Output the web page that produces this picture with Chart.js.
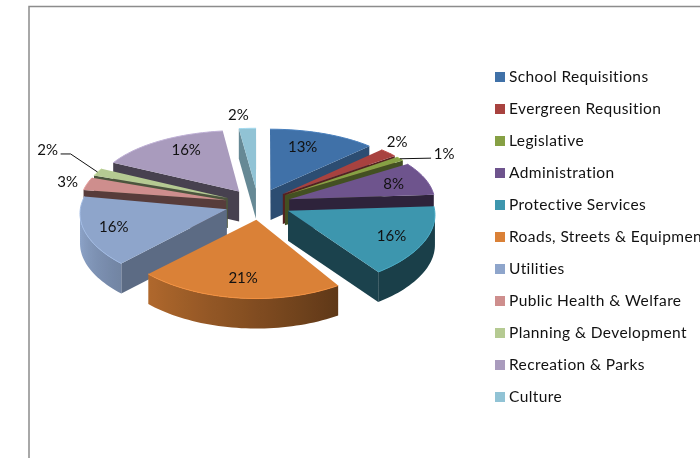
<!DOCTYPE html>
<html>
<head>
<meta charset="utf-8">
<script src="https://cdn.jsdelivr.net/npm/chart.js@4"></script>
<style>
    html, body { margin: 0; padding: 0; background: #fff; overflow: hidden; }
    canvas { display: block; }
</style>
</head>
<body>
<canvas id="budgetChart" width="700" height="458"></canvas>
<script>
// Budget share by department, drawn as an exploded 3D pie

const categories = [
    'School Requisitions', 'Evergreen Requsition', 'Legislative', 'Administration',
    'Protective Services', 'Roads, Streets & Equipment', 'Utilities',
    'Public Health & Welfare', 'Planning & Development', 'Recreation & Parks', 'Culture'
];
// the labels show them rounded
const shares = [12.6, 2.2, 1.1, 8.1, 16.2, 21.4, 16, 3.1, 1.9, 15.6, 2];
const sliceColors = [
    '#4071A8', '#A8423F', '#86A044', '#6E548D', '#3D96AE', '#DA8137',
    '#8EA5CB', '#CE8E8D', '#B5CA92', '#A99BBD', '#91C3D5'
];

// how dark the cut side of each slice is
const wallShades = [0.68, 0.5, 0.5, 0.42, 0.44, 0.5, 0.65, 0.42, 0.42, 0.42, 0.7];
// label spot as a fraction of the radius, and a small angle nudge in degrees
const labelSpots = [
    [0.72, -3.8], [1.18, -4.6], [1.31, 5.2], [0.765, 0.6], [0.776, 1.9], [0.76, 3.6],
    [0.8, 1.6], [1.14, -0.5], [1.5, 7], [0.76, 5], [1.25, -2.4]
];
// the view turns the front slices a little, in degrees
const sliceTurns = [0, 0, 0, 0, 0, 3.5, 2, 0, 0, 0, 0];

const FONT = 'Lato, sans-serif';
const pie = { cx: 258, cy: 204, radius: 146, tilt: 0.47, perspX: 0.05, perspY: 0.09, explode: 33, depth: 30 };

function project(u, v) {
    const qx = 1 - pie.perspX * v / pie.radius;
    const qy = 1 - pie.perspY * v / pie.radius;
    return { x: pie.cx + u / qx, y: pie.cy + pie.tilt * v / qy };
}

function shade(hex, f) {
    const n = parseInt(hex.slice(1), 16);
    const c = [n >> 16, (n >> 8) & 255, n & 255].map(ch => Math.min(255, Math.round(ch * f)));
    return 'rgb(' + c.join(',') + ')';
}

function rimShade(theta) {
    const deg = theta * 180 / Math.PI;
    const t = Math.min(1, Math.max(0, (deg - 145) / 115));
    return 0.42 + t * 0.56;
}

function fillPoly(ctx, pts, color) {
    ctx.beginPath();
    pts.forEach((p, i) => i ? ctx.lineTo(p.x, p.y) : ctx.moveTo(p.x, p.y));
    ctx.closePath();
    ctx.fillStyle = color;
    ctx.fill();
}

function drawRimWall(ctx, s) {
    // the run of rim points that face the viewer, filled with one gradient
    const run = [];
    for (let i = 0; i < s.rim.length - 1; i++) {
        if (s.rim[i + 1].x < s.rim[i].x) {
            if (!run.length) run.push(i);
            run.push(i + 1);
        }
    }
    if (run.length < 2) return;
    const pts = run.map(i => s.rim[i]);
    const x0 = pts[0].x, x1 = pts[pts.length - 1].x;
    const grad = ctx.createLinearGradient(x0, 0, x1, 0);
    run.forEach(i => {
        grad.addColorStop(Math.min(1, Math.max(0, (s.rim[i].x - x0) / (x1 - x0))), shade(s.color, rimShade(s.thetas[i])));
    });
    const lower = pts.slice().reverse().map(p => ({ x: p.x, y: p.y + pie.depth }));
    fillPoly(ctx, pts.concat(lower), grad);
}

function drawSlice(ctx, s) {
    const d = pie.depth;
    const last = s.rim[s.rim.length - 1];
    // cut sides, only when they face the viewer
    if (s.rim[0].x < s.apex.x) {
        fillPoly(ctx, [s.apex, s.rim[0], { x: s.rim[0].x, y: s.rim[0].y + d }, { x: s.apex.x, y: s.apex.y + d }], shade(s.color, s.wallShade));
    }
    if (s.apex.x < last.x) {
        fillPoly(ctx, [last, s.apex, { x: s.apex.x, y: s.apex.y + d }, { x: last.x, y: last.y + d }], shade(s.color, s.wallShade));
    }
    drawRimWall(ctx, s);
    fillPoly(ctx, [s.apex].concat(s.rim), s.color);

    // soft light edge along the rim
    ctx.beginPath();
    s.rim.forEach((p, i) => i ? ctx.lineTo(p.x, p.y) : ctx.moveTo(p.x, p.y));
    ctx.strokeStyle = shade(s.color, 1.12);
    ctx.lineWidth = 1;
    ctx.stroke();
}

function buildSlices(chart) {
    const arcs = chart.getDatasetMeta(0).data;
    return arcs.map((arc, i) => {
        const turn = sliceTurns[i] * Math.PI / 180;
        const start = arc.startAngle + Math.PI / 2;
        const end = arc.endAngle + Math.PI / 2;
        const mid = (start + end) / 2;
        const ou = Math.sin(mid) * pie.explode;
        const ov = -Math.cos(mid) * pie.explode;
        const thetas = [], rim = [];
        const steps = Math.max(2, Math.ceil((end - start) / 0.03));
        for (let k = 0; k <= steps; k++) {
            const t = start + turn + (end - start) * k / steps;
            thetas.push(t);
            rim.push(project(ou + Math.sin(t) * pie.radius, ov - Math.cos(t) * pie.radius));
        }
        return {
            index: i, mid, ou, ov, rim, thetas,
            apex: project(ou, ov),
            color: sliceColors[i],
            wallShade: wallShades[i],
            order: -Math.cos(mid)
        };
    });
}

const pie3d = {
    id: 'pie3d',
    beforeDatasetsDraw(chart) {
        const ctx = chart.ctx;
        const slices = buildSlices(chart);
        slices.slice().sort((a, b) => a.order - b.order).forEach(s => drawSlice(ctx, s));

        // percentage labels
        ctx.font = '15px ' + FONT;
        ctx.fillStyle = '#111';
        ctx.textAlign = 'center';
        ctx.textBaseline = 'middle';
        const total = shares.reduce((a, b) => a + b, 0);
        const spots = slices.map(s => {
            const [frac, nudge] = labelSpots[s.index];
            const t = s.mid + nudge * Math.PI / 180;
            return project(s.ou + Math.sin(t) * pie.radius * frac, s.ov - Math.cos(t) * pie.radius * frac);
        });
        slices.forEach((s, i) => ctx.fillText(Math.round(shares[s.index] / total * 100) + '%', spots[i].x, spots[i].y));

        // leader lines for the two thin slices
        ctx.strokeStyle = '#111';
        ctx.lineWidth = 1;
        [2, 8].forEach(i => {
            const edge = project(slices[i].ou + Math.sin(slices[i].mid) * pie.radius,
                slices[i].ov - Math.cos(slices[i].mid) * pie.radius);
            const toRight = spots[i].x > edge.x;
            const sx = spots[i].x + (toRight ? -13 : 13);
            ctx.beginPath();
            ctx.moveTo(sx, spots[i].y + 4);
            if (!toRight) ctx.lineTo(sx + 10, spots[i].y + 4);
            ctx.lineTo(edge.x, edge.y);
            ctx.stroke();
        });

        // legend
        ctx.font = '15.5px ' + FONT;
        ctx.letterSpacing = '0.4px';
        ctx.textAlign = 'left';
        categories.forEach((name, i) => {
            const y = 77 + i * 32;
            ctx.fillStyle = sliceColors[i];
            ctx.fillRect(495, y - 5, 10, 10);
            ctx.fillStyle = '#111';
            ctx.fillText(name, 509, y);
        });
        ctx.letterSpacing = '0px';
        return false;
    },
    beforeDraw(chart) {
        // frame of the chart area, cut off by the picture edge
        const ctx = chart.ctx;
        ctx.strokeStyle = '#8c8c8c';
        ctx.lineWidth = 1.5;
        ctx.beginPath();
        ctx.moveTo(29, 458);
        ctx.lineTo(29, 6.5);
        ctx.lineTo(700, 6.5);
        ctx.stroke();
    }
};

new Chart(document.getElementById('budgetChart').getContext('2d'), {
    type: 'pie',
    data: {
        labels: categories,
        datasets: [{ data: shares, backgroundColor: sliceColors }]
    },
    options: {
        responsive: false,
        animation: false,
        plugins: { legend: { display: false }, tooltip: { enabled: false } }
    },
    plugins: [pie3d]
});
</script>
</body>
</html>
